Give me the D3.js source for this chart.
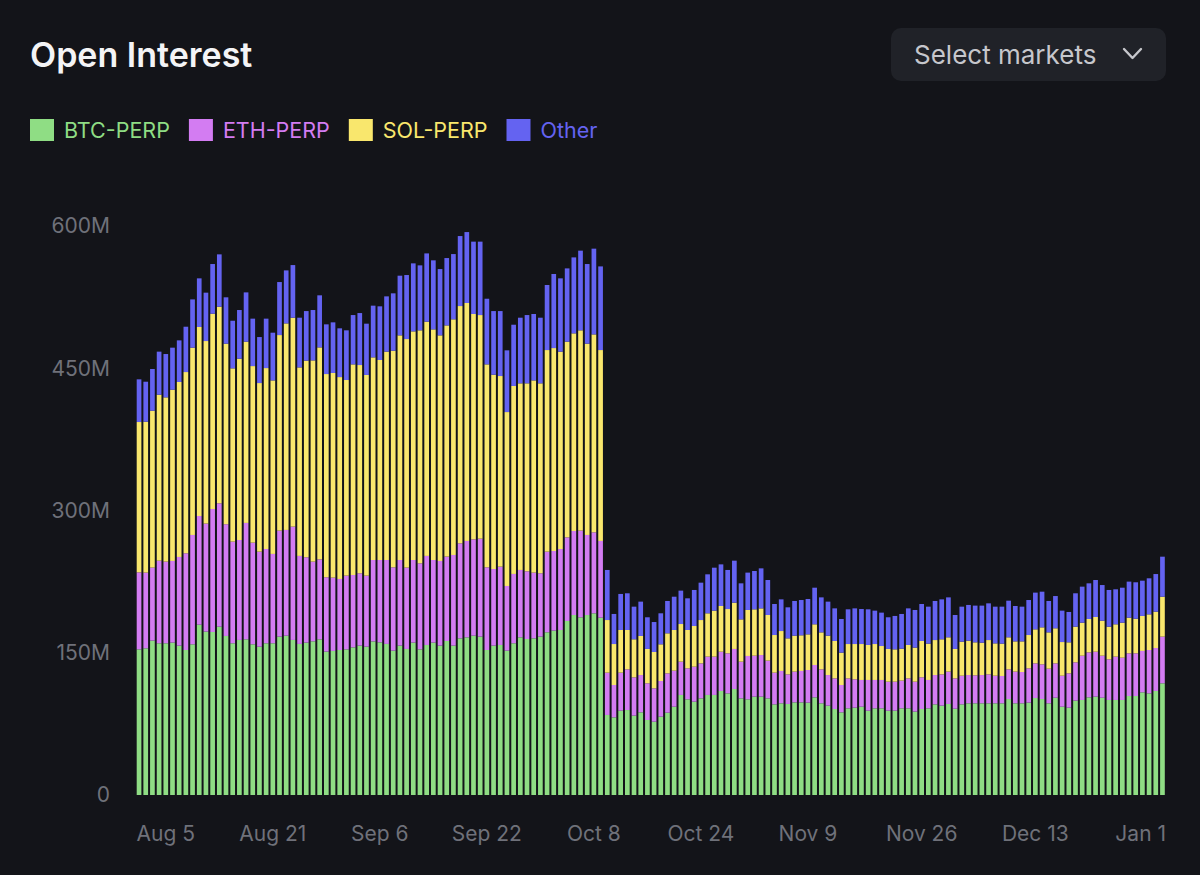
<!DOCTYPE html>
<html lang="en">
<head>
<meta charset="UTF-8">
<title>Open Interest</title>
<script src="https://d3js.org/d3.v7.min.js"></script>
<style>
  html, body { margin: 0; padding: 0; background: #131419; }
  svg { display: block; font-family: Inter, "Noto Sans", sans-serif; }
</style>
</head>
<body>
<svg width="1200" height="875"></svg>
<script>
// daily values in millions, Aug 1 -> Jan 1
const btc = [153.6,154.7,162.8,160.0,160.0,160.7,157.5,152.9,158.9,179.6,172.3,171.9,177.5,167.7,160.0,163.5,164.2,158.9,156.4,160.0,160.0,167.0,168.0,163.5,159.3,160.7,162.1,164.2,151.2,151.9,152.9,153.6,155.7,157.5,156.4,162.0,161.0,159.3,152.2,157.5,154.0,160.7,153.6,158.2,160.7,157.5,162.4,157.5,165.2,166.3,168.0,167.0,152.9,157.5,158.2,152.2,160.0,166.3,164.5,165.2,167.0,171.6,173.3,174.0,183.5,189.8,187.4,189.8,191.6,187.0,
  84.4,81.9,88.9,89.6,83.7,87.2,79.1,77.3,82.6,86.8,93.1,105.5,100.9,98.4,101.9,105.5,105.5,109.7,107.2,111.8,101.9,100.9,103.7,103.7,101.9,95.6,96.7,96.0,97.7,97.7,97.4,103.0,96.7,94.2,90.7,87.2,91.4,92.1,93.1,88.9,91.4,
  91.4,88.9,88.9,91.4,91.4,87.9,90.7,91.4,95.6,94.2,96.0,91.0,95.6,96.7,96.7,96.7,96.7,96.7,96.7,101.2,96.7,96.7,97.4,102.3,101.2,96.7,102.6,93.1,92.1,99.5,100.2,103.0,103.7,102.6,100.2,100.2,100.2,104.4,104.4,108.3,107.2,109.7,117.8];
const eth = [81.2,79.8,77.0,87.1,86.1,86.1,93.5,102.0,115.3,114.6,113.9,129.7,130.1,117.8,107.2,105.4,122.7,107.2,100.2,99.4,94.2,111.8,111.5,119.5,92.8,90.0,84.0,84.3,78.4,77.3,74.9,77.7,76.3,76.3,74.9,85.8,86.8,88.5,87.9,90.3,85.8,87.1,90.7,93.9,87.1,89.3,89.0,95.6,100.2,101.6,101.6,103.3,87.2,80.8,82.6,68.2,73.1,71.0,71.4,69.3,66.8,85.0,84.0,85.4,88.2,88.6,91.4,84.4,85.4,80.9,
  44.6,34.1,40.1,42.9,40.4,39.3,38.7,35.2,37.6,41.5,38.0,35.1,32.7,36.9,36.9,40.4,40.4,41.4,42.2,42.2,38.7,45.7,43.2,43.9,39.8,33.4,34.1,31.2,32.4,33.1,34.4,34.1,35.8,32.3,32.3,28.8,31.6,29.9,28.2,32.4,29.9,
  29.9,30.6,30.6,29.2,31.6,31.6,33.4,29.9,30.9,33.0,34.1,32.0,30.2,29.8,29.5,29.8,30.5,29.1,28.8,31.3,33.4,33.0,36.2,36.5,36.6,36.5,36.2,32.7,36.2,40.4,46.7,47.4,47.4,44.3,42.9,45.7,44.6,45.0,45.0,43.6,45.7,45.3,49.2];
const sol = [158.5,159.1,165.4,175.0,173.2,180.6,184.5,191.1,197.5,199.3,192.5,205.9,207.3,190.4,182.7,191.2,191.1,186.2,177.8,190.8,183.0,206.2,217.8,220.3,198.8,207.3,212.2,223.5,214.3,215.8,212.9,206.3,222.1,219.6,211.6,213.7,210.9,219.7,228.4,236.9,241.0,241.1,245.7,247.0,243.2,237.9,243.8,248.5,250.2,250.9,237.6,235.8,214.0,204.9,201.0,183.4,198.2,196.8,198.2,202.7,200.3,212.6,214.0,208.1,206.3,208.4,211.2,201.7,208.7,201.3,
  55.5,43.2,45.0,41.5,40.1,41.2,36.2,38.3,38.7,42.2,42.9,39.7,40.4,42.9,45.7,45.7,48.5,48.2,46.7,48.8,44.6,48.5,48.9,49.2,48.1,39.7,42.1,38.0,37.9,37.6,37.6,42.9,39.0,41.5,39.4,34.1,36.2,37.2,37.9,36.9,37.9,
  35.8,34.5,34.1,33.7,35.2,35.9,38.3,38.3,36.9,37.0,36.2,31.0,35.9,36.2,34.8,34.1,36.2,34.1,34.1,33.8,31.9,32.3,35.1,35.9,39.0,38.3,37.0,35.5,32.7,37.6,34.8,35.2,36.6,36.9,34.4,34.1,36.9,37.6,36.5,36.9,37.6,38.3,42.1];
const other = [45.0,42.2,44.0,45.4,45.7,44.3,43.9,47.8,50.9,51.3,51.0,52.4,55.2,48.9,50.2,51.3,52.0,50.0,48.5,52.1,50.3,55.9,55.9,55.5,52.4,52.3,53.1,54.9,52.4,53.4,51.4,52.4,52.0,54.8,54.1,54.5,56.6,58.3,60.5,62.9,67.5,71.7,68.5,72.0,72.8,69.9,71.0,68.8,73.8,74.8,76.3,77.4,69.2,67.1,68.5,65.1,64.6,69.2,72.0,70.0,69.2,68.6,78.1,77.3,77.3,80.1,84.0,84.0,90.4,88.2,
  52.8,31.7,38.0,38.7,34.4,36.2,33.4,31.6,32.7,34.1,35.1,35.2,33.4,38.0,39.4,41.1,45.3,43.9,41.2,44.3,38.0,39.4,40.4,42.2,36.9,32.7,33.4,32.7,36.6,37.2,37.3,38.6,36.9,35.9,34.4,35.5,36.6,37.6,36.9,37.6,35.2,
  35.2,33.4,35.2,36.6,38.6,39.7,39.0,39.0,41.2,42.1,42.1,35.8,36.9,37.7,38.7,39.1,38.7,38.7,39.0,38.6,37.3,36.6,36.9,38.7,37.6,33.1,34.0,33.1,32.0,35.2,38.0,37.6,39.0,37.6,38.7,36.9,36.9,38.0,38.4,37.2,38.0,39.7,42.2];

const seriesNames = ["BTC-PERP", "ETH-PERP", "SOL-PERP", "Other"];
const seriesColors = ["#8fdd84", "#d37cf2", "#f9e76d", "#6463f1"];
const yTicks = [0, 150, 300, 450, 600];
const xTickLabels = ["Aug 5", "Aug 21", "Sep 6", "Sep 22", "Oct 8", "Oct 24", "Nov 9", "Nov 26", "Dec 13", "Jan 1"];
const xTickDates = ["2023-08-05", "2023-08-21", "2023-09-06", "2023-09-22", "2023-10-08", "2023-10-24", "2023-11-09", "2023-11-26", "2023-12-13", "2024-01-01"];

const days = d3.timeDay.range(new Date(2023, 7, 1), new Date(2024, 0, 2));
const fmt = d3.timeFormat("%Y-%m-%d");
const keys = ["btc", "eth", "sol", "other"];
const rows = days.map((d, i) => ({ day: fmt(d), btc: btc[i], eth: eth[i], sol: sol[i], other: other[i] }));

const svg = d3.select("svg");

// title
svg.append("text").attr("x", 30).attr("y", 67)
  .attr("fill", "#f4f4f6").attr("font-size", 34).attr("font-weight", 600)
  .text("Open Interest");

// select markets button
const btn = svg.append("g");
btn.append("rect").attr("x", 891).attr("y", 28).attr("width", 275).attr("height", 53)
  .attr("rx", 10).attr("fill", "#202228");
btn.append("text").attr("x", 914).attr("y", 64).attr("fill", "#c6c7cc")
  .attr("font-size", 26).text("Select markets");
btn.append("path").attr("d", "M1124,49 L1132.5,58 L1141,49").attr("fill", "none")
  .attr("stroke", "#c6c7cc").attr("stroke-width", 2.4).attr("stroke-linecap", "round").attr("stroke-linejoin", "round");

// legend
let lx = 30;
seriesNames.forEach((name, i) => {
  const g = svg.append("g").attr("transform", `translate(${lx},119)`);
  g.append("rect").attr("width", 24).attr("height", 22).attr("fill", seriesColors[i]);
  const t = g.append("text").attr("x", 34).attr("y", 18.5).attr("fill", seriesColors[i])
    .attr("font-size", 21.5).text(name);
  lx += 34 + t.node().getComputedTextLength() + 19;
});

// scales
const x = d3.scaleBand().domain(rows.map(r => r.day)).range([136.7, 1164.8]).paddingInner(0.3);
const y = d3.scaleLinear().domain([0, 600]).range([795, 226]);

const stack = d3.stack().keys(keys)(rows);

svg.append("g").selectAll("g").data(stack).join("g")
  .attr("fill", (d, i) => seriesColors[i])
  .selectAll("rect").data(d => d).join("rect")
  .attr("x", d => x(d.data.day))
  .attr("width", x.bandwidth())
  .attr("y", d => y(d[1]))
  .attr("height", d => y(d[0]) - y(d[1]));

// y axis labels
svg.append("g").selectAll("text").data(yTicks).join("text")
  .attr("x", 110).attr("y", d => y(d)).attr("dy", "0.35em")
  .attr("text-anchor", "end").attr("fill", "#6f717a").attr("font-size", 21)
  .text(d => d === 0 ? "0" : d + "M");

// x axis labels
svg.append("g").selectAll("text").data(xTickLabels).join("text")
  .attr("x", (d, i) => {
    const cx = x(xTickDates[i]) + x.bandwidth() / 2;
    return i === xTickLabels.length - 1 ? 1166 : cx;
  })
  .attr("y", 841)
  .attr("text-anchor", (d, i) => i === xTickLabels.length - 1 ? "end" : "middle")
  .attr("fill", "#6f717a").attr("font-size", 21)
  .text(d => d);
</script>
</body>
</html>
